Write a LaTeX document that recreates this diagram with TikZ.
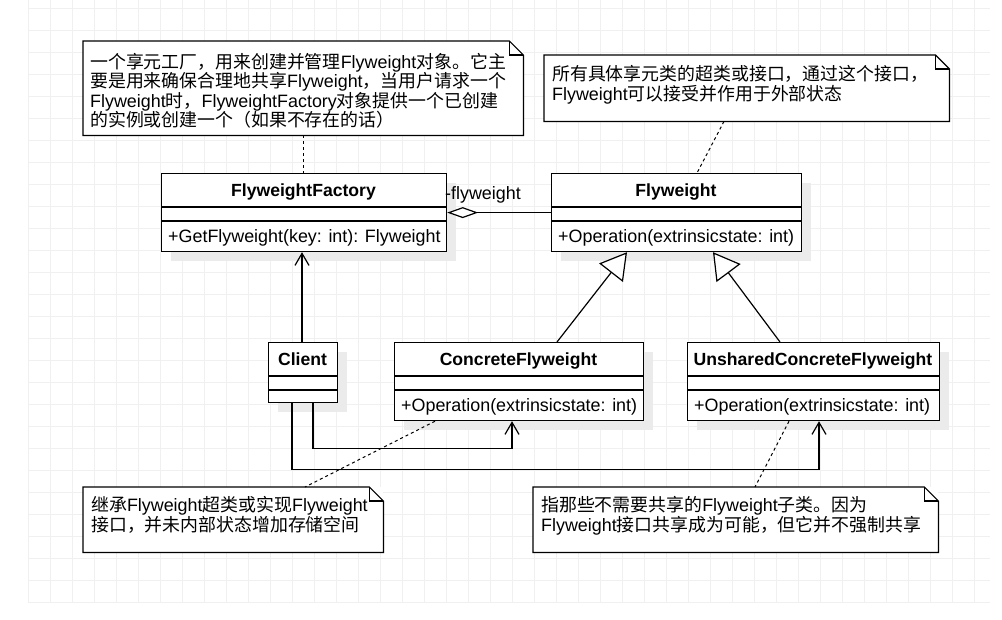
\documentclass[tikz,border=0pt]{standalone}
\usepackage{fontspec}
\setmainfont{Liberation Sans}
\newfontfamily\cjk{Noto Sans CJK SC}
\usetikzlibrary{arrows.meta,calc}
\newcommand\zh[1]{{\cjk #1}}
\tikzset{
  gridline/.style={draw=black!6, line width=0.8pt},
  shadowbox/.style={fill=black!8},
  box/.style={draw, line width=1.2pt, fill=white, inner sep=0pt, anchor=north west},
  ttl/.style={font=\fontsize{17.6}{20}\selectfont\bfseries, anchor=base, inner sep=0pt},
  op/.style={anchor=base west, inner sep=0pt},
  txt/.style={anchor=base west, inner sep=0pt},
  divider/.style={line width=1.2pt},
  notebox/.style={draw=none, fill=white, inner sep=0pt, anchor=north west},
  noteline/.style={line width=1.2pt, line join=miter},
  dashline/.style={line width=1pt, dash pattern=on 3pt off 3pt},
  assoc/.style={line width=1.2pt, -{Straight Barb[length=12pt,width=14pt,line width=1.2pt]}},
  gen/.style={line width=1.2pt, -{Triangle[length=26pt,width=30pt,fill=white,line width=1.2pt]}},
  agg/.style={line width=1.2pt, -{Diamond[length=31pt,width=11pt,fill=white,line width=1.2pt]}},
}
\newcommand\umlclass[7]{%
  \fill[shadowbox] (#2+10,#3+10) rectangle (#4+10,#5+10);
  \node[box, minimum width=#4-#2, minimum height=#5-#3] (#1) at (#2,#3) {};
  \draw[divider] (#2,#3+34) -- (#4,#3+34) (#2,#3+48) -- (#4,#3+48);
  \node[ttl] (#1-t) at ({(#2+#4)/2},#3+23.5) {#6};
  \node[op] (#1-m) at (#2+7,{(#3+48+#5)/2+6}) {#7};
}
\newcommand\umlnote[5]{%
  \node[notebox, minimum width=#4-#2, minimum height=#5-#3] (#1) at (#2,#3) {};
  \draw[noteline] (#1.north west) -- ([xshift=-14pt]#1.north east) -- ([yshift=-14pt]#1.north east) -- (#1.south east) -- (#1.south west) -- cycle;
  \draw[noteline] ([xshift=-14pt]#1.north east) -- ([xshift=-14pt,yshift=-14pt]#1.north east) -- ([yshift=-14pt]#1.north east);
}
\begin{document}
\begin{tikzpicture}[x=1pt,y=-1pt,font=\fontsize{17.9}{20}\selectfont]
\useasboundingbox (0,0) rectangle (1002,619);
\fill[white] (0,0) rectangle (1002,619);
% grid
\begin{scope}
\clip (28,0) rectangle (990,602.5);
\foreach \i in {0,...,44} \draw[gridline] (28+22*\i,0) -- (28+22*\i,602);
\foreach \j in {0,...,27} \draw[gridline] (28,8+22*\j) -- (990,8+22*\j);
\end{scope}

% classes
\umlclass{ff}{161}{173}{446}{251}{FlyweightFactory}{+GetFlyweight(key: int): Flyweight}
\umlclass{fw}{551}{173}{801}{251}{Flyweight}{+Operation(extrinsicstate: int)}
\umlclass{cl}{268}{342}{337}{402}{Client}{}
\umlclass{cf}{394}{342}{643}{420}{ConcreteFlyweight}{+Operation(extrinsicstate: int)}
\umlclass{ucf}{687}{342}{939}{420}{UnsharedConcreteFlyweight}{+Operation(extrinsicstate: int)}

% notes
\umlnote{n1}{83}{41}{523}{135}
\node[txt] (n1a) at (90,68) {\zh{一个享元工厂，用来创建并管理}Flyweight\zh{对象。它主}};
\node[txt] (n1b) at (90,87.5) {\zh{要是用来确保合理地共享}Flyweight\zh{，当用户请求一个}};
\node[txt] (n1c) at (90,107) {Flyweight\zh{时，}FlyweightFactory\zh{对象提供一个已创建}};
\node[txt] (n1d) at (90,126.5) {\zh{的实例或创建一个（如果不存在的话）}};

\umlnote{n2}{544}{55}{949}{121}
\node[txt] (n2a) at (552,80) {\zh{所有具体享元类的超类或接口，通过这个接口，}};
\node[txt] (n2b) at (552,100) {Flyweight\zh{可以接受并作用于外部状态}};

\umlnote{n3}{83}{487}{383}{552}
\node[txt] (n3a) at (91,511) {\zh{继承}Flyweight\zh{超类或实现}Flyweight};
\node[txt] (n3b) at (91,531) {\zh{接口，并未内部状态增加存储空间}};

\umlnote{n4}{533}{487}{938}{552}
\node[txt] (n4a) at (541,511) {\zh{指那些不需要共享的}Flyweight\zh{子类。因为}};
\node[txt] (n4b) at (541,531) {Flyweight\zh{接口共享成为可能，但它并不强制共享}};

% connectors
\draw[agg] (fw.west) -- (ff.east);
\node[txt] (lbl) at (445,199) {-flyweight};

\draw[assoc] ([xshift=34pt]cl.north west) -- ([xshift=34pt]cl.north west |- ff.south);
\draw[assoc] ([xshift=45pt]cl.south west) -- ++(0,45) -| ([xshift=118pt]cf.south west);
\draw[assoc] ([xshift=24pt]cl.south west) -- ++(0,66) -| ([xshift=132pt]ucf.south west);

\draw[gen] ([xshift=163pt]cf.north west) -- ([xshift=76pt]fw.south west);
\draw[gen] ([xshift=93pt]ucf.north west) -- ([xshift=162pt]fw.south west);

\draw[dashline] ([xshift=220pt]n1.south west) -- ([xshift=142pt]ff.north west);
\draw[dashline] ([xshift=180pt]n2.south west) -- ([xshift=146pt]fw.north west);
\draw[dashline] ([xshift=41pt]cf.south west) -- ([xshift=222pt]n3.north west);
\draw[dashline] ([xshift=102pt]ucf.south west) -- ([xshift=222pt]n4.north west);
\end{tikzpicture}
\end{document}
